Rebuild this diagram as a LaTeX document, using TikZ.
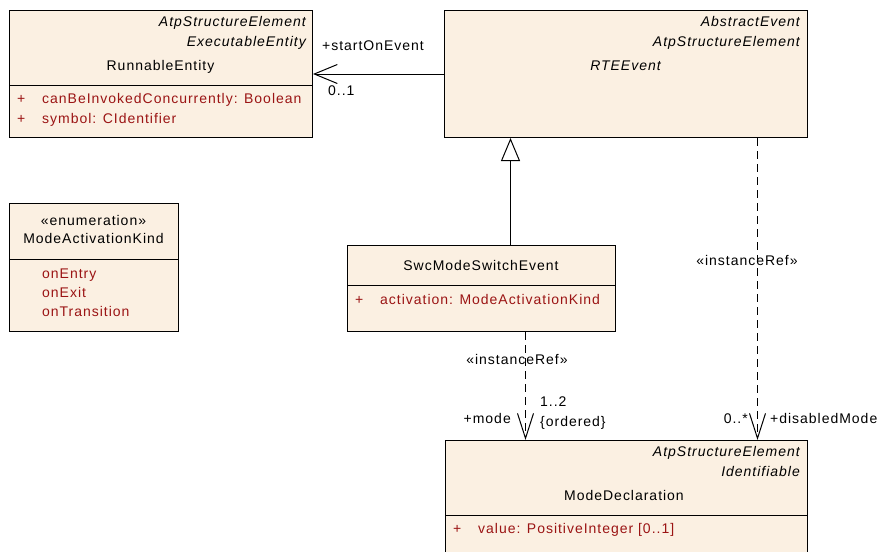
\documentclass[tikz,border=0pt]{standalone}
\usepackage{fontspec}
\setmainfont{Liberation Sans}[LetterSpace=7]
\usepackage{tikz}
\usetikzlibrary{arrows.meta,positioning,calc}
\definecolor{umlfill}{RGB}{251,240,226}
\definecolor{umlred}{RGB}{155,20,20}
\tikzset{
  umlbox/.style={draw=black, line width=1pt, fill=umlfill, inner sep=0pt, anchor=north west},
  umltxt/.style={inner sep=0pt, text height=10pt, text depth=3pt, font=\fontsize{14}{20}\selectfont},
  umlitx/.style={umltxt, font=\fontsize{14}{20}\selectfont\itshape, anchor=east},
  umlattr/.style={umltxt, text=umlred, anchor=west},
  umlline/.style={-{Straight Barb[length=23pt,width=19pt]}, line width=1pt},
  umlgen/.style={-{Triangle[open,length=23pt,width=19pt]}, line width=1pt},
  umldep/.style={-{Straight Barb[length=25pt,width=16pt]}, line width=1pt, dash pattern=on 8pt off 5pt}
}

\begin{document}
\begin{tikzpicture}[x=1pt, y=-1pt]
  \useasboundingbox (0,0) rectangle (879,552);
  \clip (0,0) rectangle (879,552);

  \node[umlbox, minimum width=303pt, minimum height=127pt] (run) at (9,10) {};
  \node[umlitx] (runst1) at (306,23) {AtpStructureElement};
  \node[umlitx] (runst2) at (306,43) {ExecutableEntity};
  \node[umltxt] (runname) at (160.5,67) {RunnableEntity};
  \draw[line width=1pt] (run.west |- 0,85) -- (run.east |- 0,85);
  \node[umlattr] (runp1) at (17,100) {+};
  \node[umlattr] (runa1) at (42,100) {canBeInvokedConcurrently: Boolean};
  \node[umlattr] (runp2) at (17,120) {+};
  \node[umlattr] (runa2) at (42,120) {symbol: CIdentifier};

  \node[umlbox, minimum width=363pt, minimum height=127pt] (rte) at (444,10) {};
  \node[umlitx] (rtest1) at (800,23) {AbstractEvent};
  \node[umlitx] (rtest2) at (800,43) {AtpStructureElement};
  \node[umltxt, font=\fontsize{14}{20}\selectfont\itshape] (rtename) at (625.5,67) {RTEEvent};

  \node[umlbox, minimum width=169pt, minimum height=128pt] (enum) at (9,203) {};
  \node[umltxt] (enumst) at (93.5,222) {«enumeration»};
  \node[umltxt] (enumname) at (93.5,240) {ModeActivationKind};
  \draw[line width=1pt] (enum.west |- 0,259) -- (enum.east |- 0,259);
  \node[umlattr] (enuml1) at (42,275) {onEntry};
  \node[umlattr] (enuml2) at (42,294) {onExit};
  \node[umlattr] (enuml3) at (42,313) {onTransition};

  \node[umlbox, minimum width=268pt, minimum height=86pt] (swc) at (347,245) {};
  \node[umltxt] (swcname) at (481,267) {SwcModeSwitchEvent};
  \draw[line width=1pt] (swc.west |- 0,285) -- (swc.east |- 0,285);
  \node[umlattr] (swcp1) at (355,301) {+};
  \node[umlattr] (swca1) at (380,301) {activation: ModeActivationKind};

  \node[umlbox, minimum width=362pt, minimum height=130pt] (mode) at (445,440) {};
  \node[umlitx] (modest1) at (800,453) {AtpStructureElement};
  \node[umlitx] (modest2) at (800,473) {Identifiable};
  \node[umltxt] (modename) at (624,497) {ModeDeclaration};
  \draw[line width=1pt] (mode.west |- 0,515) -- (mode.east |- 0,515);
  \node[umlattr] (modep1) at (453,530) {+};
  \node[umlattr] (modea1) at (478,530) {value: PositiveInteger [0..1]};

  \draw[umlline] (rte.west) -- (run.east);
  \draw[umlgen] ([xshift=29pt]swc.north) -- ([xshift=29pt]swc.north |- rte.south);
  \draw[umldep] ([xshift=44pt]swc.south) -- ([xshift=44pt]swc.south |- mode.north);
  \draw[umldep] ([xshift=131.5pt]rte.south) -- ([xshift=131.5pt]rte.south |- mode.north);

  \node[umltxt, anchor=west] (lstart) at (322,47) {+startOnEvent};
  \node[umltxt, anchor=west] (lstartm) at (328,92) {0..1};
  \node[umltxt] (lref1) at (517,361) {«instanceRef»};
  \node[umltxt, anchor=east] (lmode) at (511,420) {+mode};
  \node[umltxt, anchor=west] (lmodem) at (540,403) {1..2};
  \node[umltxt, anchor=west] (lmodeo) at (540,423) {\{ordered\}};
  \node[umltxt] (lref2) at (747,262) {«instanceRef»};
  \node[umltxt, anchor=east] (ldism) at (748,420) {0..*};
  \node[umltxt, anchor=west] (ldis) at (770,420) {+disabledMode};
\end{tikzpicture}
\end{document}
